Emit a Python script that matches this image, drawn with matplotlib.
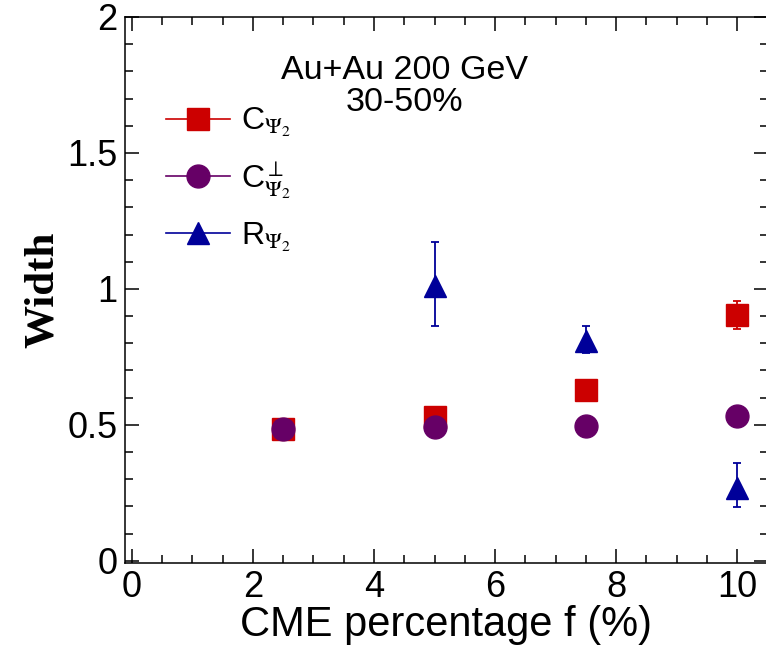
import matplotlib
matplotlib.use("Agg")
import matplotlib.pyplot as plt
from matplotlib.ticker import MultipleLocator

plt.rcParams['font.family'] = ['Liberation Sans', 'DejaVu Sans']
plt.rcParams['mathtext.fontset'] = 'stix'

# data
cme_frac = [2.5, 5, 7.5, 10]
c_width = [0.483, 0.528, 0.627, 0.904]
c_err = [0.01, 0.01, 0.01, 0.053]
cperp_width = [0.485, 0.491, 0.494, 0.531]
cperp_err = [0.01, 0.01, 0.01, 0.01]
r_frac = [5, 7.5, 10]
r_width = [1.011, 0.808, 0.269]
r_err_lo = [0.148, 0.044, 0.070]
r_err_hi = [0.162, 0.055, 0.089]

red = '#cc0000'
purple = '#660066'
blue = '#000099'

W, H = 766, 647
fig = plt.figure(figsize=(W / 100, H / 100), dpi=100)
left, right, bottom, top = 124.6, 767.5, 563, 17
ax = fig.add_axes([left / W, 1 - bottom / H, (right - left) / W, (bottom - top) / H])

ax.errorbar(cme_frac, c_width, yerr=c_err, fmt='s', color=red, ms=16.5,
            capsize=2.6, elinewidth=1.3, capthick=1.3, zorder=3)
ax.errorbar(cme_frac, cperp_width, yerr=cperp_err, fmt='o', color=purple, ms=16.5,
            capsize=2.6, elinewidth=1.3, capthick=1.3, zorder=4)
ax.errorbar(r_frac, r_width, yerr=[r_err_lo, r_err_hi], fmt='^', color=blue, ms=16,
            capsize=2.6, elinewidth=1.3, capthick=1.3, zorder=5)

# legend handles with a line through the marker
h1, = ax.plot([], [], 's-', color=red, ms=16.5, lw=1.2)
h2, = ax.plot([], [], 'o-', color=purple, ms=16.5, lw=1.2)
h3, = ax.plot([], [], '^-', color=blue, ms=16, lw=1.2)
ax.legend([h1, h2, h3],
          [r'C$_{\Psi_2}$', r'C$^{\perp}_{\Psi_2}$', r'R$_{\Psi_2}$'],
          loc='upper left', bbox_to_anchor=(0.02, 0.89), frameon=False,
          fontsize=23, handlelength=2.0, handletextpad=0.35, labelspacing=0.62)

ax.text(0.435, 0.902, 'Au+Au 200 GeV', transform=ax.transAxes, ha='center',
        va='center', fontsize=24.5)
ax.text(0.435, 0.843, '30-50%', transform=ax.transAxes, ha='center',
        va='center', fontsize=24.5)

ax.set_xlim(-0.12, 10.5)
ax.set_ylim(-0.008, 2)
ax.xaxis.set_minor_locator(MultipleLocator(0.5))
ax.yaxis.set_minor_locator(MultipleLocator(0.1))
ax.set_xticks([0, 2, 4, 6, 8, 10])
ax.set_xticklabels(['0', '2', '4', '6', '8', '10'])
ax.set_yticks([0, 0.5, 1, 1.5, 2])
ax.set_yticklabels(['0', '0.5', '1', '1.5', '2'])
ax.tick_params(which='both', direction='in', top=True, right=True, width=1.1)
ax.tick_params(which='major', length=10, labelsize=26, pad=5)
ax.tick_params(which='minor', length=5.5)
for s in ax.spines.values():
    s.set_linewidth(1.1)

ax.set_xlabel('CME percentage f (%)', fontsize=30, labelpad=0)
ax.set_ylabel('Width', fontsize=31, family='Liberation Serif', fontweight='bold',
              labelpad=4)

fig.savefig('out.png', dpi=100)
